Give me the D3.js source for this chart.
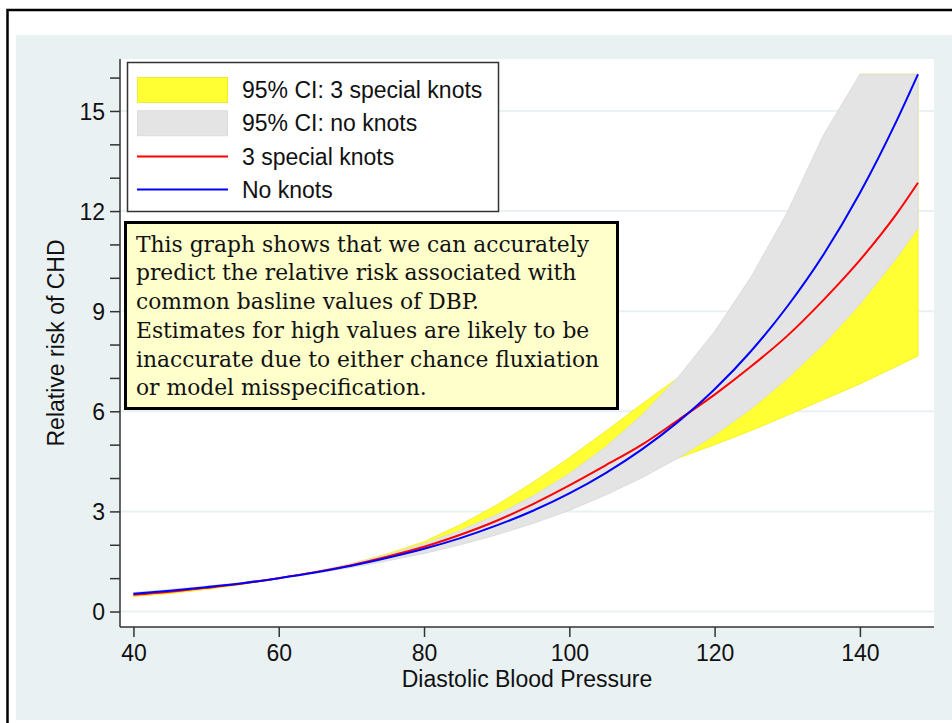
<!DOCTYPE html>
<html>
<head>
<meta charset="utf-8">
<script src="https://cdn.jsdelivr.net/npm/d3@7"></script>
<style>
  body { margin: 0; background: #fff; }
  svg { display: block; font-family: "Liberation Sans", Arial, sans-serif; }
  .note { font-family: "DejaVu Serif", serif; }
</style>
</head>
<body>
<svg id="chart" width="952" height="723"></svg>
<script>
const dbp = [40, 45, 50, 55, 60, 65, 70, 75, 80, 85, 90, 95, 100, 105, 110, 115, 120, 125, 130, 135, 140, 145, 148];
const rrKnots = [0.50, 0.59, 0.71, 0.84, 1.00, 1.18, 1.39, 1.65, 1.94, 2.30, 2.72, 3.22, 3.78, 4.38, 5.00, 5.74, 6.50, 7.34, 8.26, 9.34, 10.53, 11.90, 12.85];
const rrNoKnots = [0.53, 0.62, 0.73, 0.85, 1.00, 1.17, 1.37, 1.61, 1.88, 2.20, 2.58, 3.02, 3.54, 4.15, 4.86, 5.69, 6.66, 7.80, 9.14, 10.70, 12.54, 14.68, 16.10];
const ciKnotsLo = [0.45, 0.54, 0.66, 0.81, 1.00, 1.16, 1.34, 1.55, 1.80, 2.08, 2.40, 2.78, 3.20, 3.70, 4.15, 4.60, 5.00, 5.42, 5.88, 6.35, 6.82, 7.34, 7.66];
const ciKnotsHi = [0.55, 0.64, 0.75, 0.87, 1.00, 1.19, 1.43, 1.73, 2.09, 2.60, 3.19, 3.87, 4.61, 5.40, 6.22, 7.01, 7.80, 8.90, 10.30, 12.10, 16.10, 16.10, 16.10];
const ciNoKnotsLo = [0.49, 0.59, 0.70, 0.84, 1.00, 1.15, 1.32, 1.52, 1.74, 2.00, 2.30, 2.64, 3.03, 3.49, 4.01, 4.60, 5.29, 6.07, 6.98, 8.01, 9.21, 10.58, 11.50];
const ciNoKnotsHi = [0.57, 0.66, 0.76, 0.87, 1.00, 1.19, 1.43, 1.70, 2.03, 2.43, 2.90, 3.46, 4.13, 4.93, 5.89, 7.03, 8.39, 10.02, 11.96, 14.28, 16.10, 16.10, 16.10];

const xTicks = [40, 60, 80, 100, 120, 140];
const yTicks = [0, 3, 6, 9, 12, 15];
const yMinorTicks = [1, 2, 4, 5, 7, 8, 10, 11, 13, 14, 16];
const legendLabels = ['95% CI: 3 special knots', '95% CI: no knots', '3 special knots', 'No knots'];
const noteLines = [
  'This graph shows that we can accurately',
  'predict the relative risk associated with',
  'common basline values of DBP.',
  'Estimates for high values are likely to be',
  'inaccurate due to either chance fluxiation',
  'or model misspecification.'
];

const svg = d3.select('#chart');
const plot = { left: 120, right: 934, top: 59, bottom: 627 };

// outer frame and graph region
svg.append('rect').attr('x', 7.5).attr('y', 10).attr('width', 960).attr('height', 730)
  .attr('fill', '#fff').attr('stroke', '#000').attr('stroke-width', 2.5);
svg.append('rect').attr('x', 16).attr('y', 35).attr('width', 950).attr('height', 685)
  .attr('fill', '#eaf1f3');
svg.append('rect').attr('x', plot.left).attr('y', plot.top)
  .attr('width', plot.right - plot.left).attr('height', plot.bottom - plot.top)
  .attr('fill', '#fff');

const x = d3.scaleLinear().domain([38.15, 150.2]).range([plot.left, plot.right]);
const y = d3.scaleLinear().domain([-0.464, 16.557]).range([plot.bottom, plot.top]);

// grid
svg.append('g').selectAll('line').data(yTicks).enter().append('line')
  .attr('x1', plot.left).attr('x2', plot.right)
  .attr('y1', d => y(d)).attr('y2', d => y(d))
  .attr('stroke', '#eaf1f3').attr('stroke-width', 2);

const rows = dbp.map((d, i) => ({
  x: d, rk: rrKnots[i], rn: rrNoKnots[i],
  kLo: ciKnotsLo[i], kHi: ciKnotsHi[i], nLo: ciNoKnotsLo[i], nHi: ciNoKnotsHi[i]
}));

const band = (lo, hi) => d3.area().x(d => x(d.x)).y0(d => y(d[lo])).y1(d => y(d[hi]));
const line = key => d3.line().x(d => x(d.x)).y(d => y(d[key])).curve(d3.curveMonotoneX);

svg.append('path').datum(rows).attr('d', band('kLo', 'kHi'))
  .attr('fill', '#ffff33').attr('stroke', '#f4f030').attr('stroke-width', 1);
svg.append('path').datum(rows).attr('d', band('nLo', 'nHi'))
  .attr('fill', '#e4e4e4').attr('stroke', '#dcdcdc').attr('stroke-width', 1);
svg.append('path').datum(rows).attr('d', line('rk'))
  .attr('fill', 'none').attr('stroke', '#ff0000').attr('stroke-width', 2);
svg.append('path').datum(rows).attr('d', line('rn'))
  .attr('fill', 'none').attr('stroke', '#0000ff').attr('stroke-width', 2);

// axes
const yAxis = svg.append('g').attr('transform', `translate(${plot.left},0)`)
  .call(d3.axisLeft(y).tickValues(yTicks).tickSize(10).tickPadding(5).tickSizeOuter(0));
svg.append('g').attr('transform', `translate(${plot.left},0)`)
  .call(d3.axisLeft(y).tickValues(yMinorTicks).tickSize(10).tickFormat('').tickSizeOuter(0))
  .select('.domain').remove();
const xAxis = svg.append('g').attr('transform', `translate(0,${plot.bottom})`)
  .call(d3.axisBottom(x).tickValues(xTicks).tickSize(10).tickPadding(8).tickSizeOuter(0));

svg.selectAll('.domain, .tick line').attr('stroke', '#333').attr('stroke-width', 1.5);
yAxis.select('.domain').attr('d', `M0,${plot.top}V${plot.bottom}`);
xAxis.select('.domain').attr('d', `M${plot.left},0H${plot.right}`);
svg.selectAll('.tick text').attr('font-size', 23).attr('fill', '#111')
  .attr('font-family', '"Liberation Sans", Arial, sans-serif');
yAxis.selectAll('.tick text').attr('dy', '0.36em');

svg.append('text').attr('x', 527).attr('y', 687).attr('text-anchor', 'middle')
  .attr('font-size', 23).attr('fill', '#111').text('Diastolic Blood Pressure');
svg.append('text').attr('transform', `translate(64,${(plot.top + plot.bottom) / 2}) rotate(-90)`)
  .attr('text-anchor', 'middle').attr('font-size', 23).attr('fill', '#111')
  .text('Relative risk of CHD');

// legend
const legend = svg.append('g');
legend.append('rect').attr('x', 127.5).attr('y', 62.5).attr('width', 371).attr('height', 149)
  .attr('fill', '#fff').attr('stroke', '#333').attr('stroke-width', 1.5);
const legendRow = i => 90 + i * 33.2;
legend.append('rect').attr('x', 137.5).attr('y', legendRow(0) - 12.5).attr('width', 90).attr('height', 25)
  .attr('fill', '#ffff33').attr('stroke', '#eeea30');
legend.append('rect').attr('x', 137.5).attr('y', legendRow(1) - 12.5).attr('width', 90).attr('height', 25)
  .attr('fill', '#e4e4e4').attr('stroke', '#dcdcdc');
legend.append('line').attr('x1', 137).attr('x2', 228).attr('y1', legendRow(2)).attr('y2', legendRow(2))
  .attr('stroke', '#ff0000').attr('stroke-width', 2);
legend.append('line').attr('x1', 137).attr('x2', 228).attr('y1', legendRow(3)).attr('y2', legendRow(3))
  .attr('stroke', '#0000ff').attr('stroke-width', 2);
legend.selectAll('text.lab').data(legendLabels).enter().append('text')
  .attr('class', 'lab').attr('x', 242).attr('y', (d, i) => legendRow(i)).attr('dy', '0.36em')
  .attr('font-size', 23).attr('fill', '#111').text(d => d);

// note box
const note = svg.append('g');
note.append('rect').attr('x', 125.5).attr('y', 222.5).attr('width', 492).attr('height', 186)
  .attr('fill', '#ffffcc').attr('stroke', '#000').attr('stroke-width', 3);
note.selectAll('text').data(noteLines).enter().append('text')
  .attr('class', 'note').attr('x', 136).attr('y', (d, i) => 251.7 + i * 28.7)
  .attr('font-size', 21.8).attr('fill', '#111').text(d => d);
</script>
</body>
</html>
